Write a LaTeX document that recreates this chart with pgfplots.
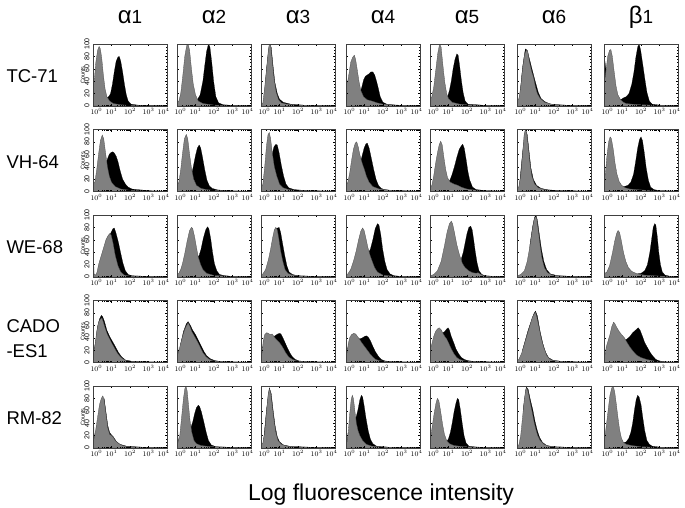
\documentclass[border=0pt]{standalone}
\usepackage{pgfplots}
\pgfplotsset{compat=1.18}
\usepackage{fontspec}
\setmainfont{Liberation Sans}
\definecolor{hg}{RGB}{128,128,128}
\pgfplotsset{
  panel/.style={
    width=74pt, height=62pt, scale only axis, anchor=north west,
    xmin=0, xmax=4, ymin=0, ymax=100,
    xtick={0,1,2,3,4},
    xticklabels={\makebox[0pt][l]{\kern-2.5pt$10^0$},$10^1$,$10^2$,$10^3$,\makebox[0pt][r]{$10^4$\kern-2.5pt}},
    minor xtick={0.301,0.477,0.602,0.699,0.778,0.845,0.903,0.954,
                 1.301,1.477,1.602,1.699,1.778,1.845,1.903,1.954,
                 2.301,2.477,2.602,2.699,2.778,2.845,2.903,2.954,
                 3.301,3.477,3.602,3.699,3.778,3.845,3.903,3.954},
    ytick={0,20,40,60,80,100}, minor y tick num=3,
    yticklabels={},
    tick label style={font=\fontsize{7.5}{7.5}\selectfont},
    xticklabel style={yshift=1pt},
    major tick length=2pt, minor tick length=1.1pt,
    tick align=inside,
    every tick/.style={black, line width=0.35pt},
    axis line style={black!75, line width=0.45pt},
    axis on top, no markers,
  },
  first/.style={
    yticklabels={0,20,40,60,80,100},
    yticklabel style={rotate=90, anchor=south, font=\fontsize{7}{7}\selectfont},
    ylabel={Counts},
    ylabel style={font=\fontsize{5.5}{5.5}\selectfont, yshift=-7pt},
  },
  bk/.style={fill=black, draw=black, line width=0.2pt},
  gr/.style={fill=hg, draw=black!70, line width=0.3pt},
}
\begin{document}
\begin{tikzpicture}
\path[use as bounding box] (0,0) rectangle (685pt,-507pt);

% column headers
\foreach \x/\g/\n in {130/α/1,214/α/2,298/α/3,383/α/4,467/α/5,554/α/6,641/β/1}
  \node[anchor=base] at (\x pt,-23pt) {{\fontsize{24}{24}\selectfont\g}{\fontsize{19}{19}\selectfont\n}};
% row labels
\node[font=\fontsize{18.5}{18.5}\selectfont, anchor=base west] at (3pt,-82pt) {TC-71};
\node[font=\fontsize{18.5}{18.5}\selectfont, anchor=base west] at (3pt,-168pt) {VH-64};
\node[font=\fontsize{18.5}{18.5}\selectfont, anchor=base west] at (3pt,-253pt) {WE-68};
\node[font=\fontsize{18.5}{18.5}\selectfont, anchor=base west] at (3pt,-332pt) {CADO};
\node[font=\fontsize{18.5}{18.5}\selectfont, anchor=base west] at (3pt,-357pt) {-ES1};
\node[font=\fontsize{18.5}{18.5}\selectfont, anchor=base west] at (3pt,-424pt) {RM-82};
\node[font=\fontsize{23}{23}\selectfont, anchor=base] at (381pt,-500pt) {Log fluorescence intensity};

% ===== row 1: TC-71 =====
\begin{axis}[panel,first,at={(93pt,-44pt)}]
\addplot[bk] coordinates {(0.5,8)(0.7,13)(0.85,15)(0.95,20)(1.05,35)(1.15,55)(1.25,72)(1.35,79)(1.42,80)(1.5,72)(1.6,55)(1.7,35)(1.8,18)(1.9,8)(2.05,3)(2.4,1.5)(3,1)(4,0.5)} \closedcycle;
\addplot[gr] coordinates {(0,40)(0.08,45)(0.15,70)(0.25,90)(0.33,96)(0.4,92)(0.48,75)(0.56,50)(0.65,28)(0.75,15)(0.9,8)(1.1,4)(1.5,2)(2,1)(3,0.5)(4,0.3)} \closedcycle;
\end{axis}
\begin{axis}[panel,at={(177pt,-44pt)}]
\addplot[bk] coordinates {(0.9,8)(1.1,10)(1.25,18)(1.4,40)(1.5,65)(1.6,88)(1.7,100)(1.78,95)(1.88,70)(1.98,40)(2.1,15)(2.25,5)(2.5,2)(3,1)(4,0.5)} \closedcycle;
\addplot[gr] coordinates {(0,5)(0.1,8)(0.2,20)(0.3,45)(0.42,80)(0.52,97)(0.6,100)(0.68,90)(0.78,60)(0.88,35)(1.0,18)(1.15,8)(1.4,4)(2,1.5)(3,0.5)(4,0.3)} \closedcycle;
\end{axis}
\begin{axis}[panel,at={(261pt,-44pt)}]
\addplot[bk] coordinates {(0.15,5)(0.3,60)(0.45,100)(0.55,95)(0.65,65)(0.75,38)(0.88,20)(1.0,11)(1.2,6)(1.6,3)(2.2,1.5)(3,1)(4,0.5)} \closedcycle;
\addplot[gr] coordinates {(0,0)(0.1,5)(0.2,30)(0.3,60)(0.38,85)(0.45,100)(0.52,98)(0.6,75)(0.7,45)(0.82,22)(0.95,10)(1.1,5)(1.4,3)(2,1.5)(3,1)(4,0.5)} \closedcycle;
\end{axis}
\begin{axis}[panel,at={(346pt,-44pt)}]
\addplot[bk] coordinates {(0.6,10)(0.75,20)(0.85,30)(0.95,42)(1.05,48)(1.15,50)(1.25,52)(1.35,55)(1.45,55)(1.55,50)(1.65,40)(1.75,28)(1.85,15)(2.0,6)(2.2,3)(2.6,1.5)(3.2,1)(4,0.5)} \closedcycle;
\addplot[gr] coordinates {(0,35)(0.08,38)(0.15,50)(0.25,70)(0.35,78)(0.45,82)(0.52,75)(0.6,60)(0.7,40)(0.8,25)(0.95,15)(1.15,10)(1.4,8)(1.7,5)(2,3)(3,1)(4,0.5)} \closedcycle;
\end{axis}
\begin{axis}[panel,at={(430pt,-44pt)}]
\addplot[bk] coordinates {(0.8,10)(0.95,15)(1.05,25)(1.15,40)(1.25,60)(1.35,75)(1.45,84)(1.52,82)(1.6,65)(1.7,40)(1.8,20)(1.9,8)(2.05,3)(2.5,2)(3,1)(4,0.5)} \closedcycle;
\addplot[gr] coordinates {(0,10)(0.1,15)(0.2,30)(0.3,55)(0.42,85)(0.52,100)(0.6,95)(0.7,65)(0.8,38)(0.9,20)(1.0,12)(1.2,6)(1.6,3)(2,2)(3,1)(4,0.5)} \closedcycle;
\end{axis}
\begin{axis}[panel,at={(517pt,-44pt)}]
\addplot[bk] coordinates {(0.15,15)(0.3,62)(0.45,92)(0.55,90)(0.68,75)(0.85,55)(1.0,38)(1.15,22)(1.3,12)(1.5,7)(1.8,3)(2.5,1.5)(4,0.5)} \closedcycle;
\addplot[gr] coordinates {(0,8)(0.1,12)(0.2,30)(0.3,60)(0.4,82)(0.5,90)(0.58,88)(0.68,70)(0.8,55)(0.9,45)(1.0,30)(1.1,20)(1.25,12)(1.5,6)(2,2)(3,1)(4,0.5)} \closedcycle;
\end{axis}
\begin{axis}[panel,at={(604pt,-44pt)}]
\addplot[bk] coordinates {(0,70)(0.05,72)(0.1,60)(0.6,10)(0.9,10)(1.05,13)(1.2,15)(1.35,20)(1.5,35)(1.62,55)(1.72,78)(1.82,95)(1.9,100)(1.98,90)(2.08,70)(2.2,45)(2.32,22)(2.45,8)(2.6,3)(3,1.5)(4,0.5)} \closedcycle;
\addplot[gr] coordinates {(0,43)(0.06,45)(0.12,60)(0.2,80)(0.3,90)(0.37,91)(0.45,80)(0.55,55)(0.65,32)(0.75,18)(0.9,10)(1.05,6)(1.2,4)(1.5,3)(2,2)(3,1)(4,0.5)} \closedcycle;
\end{axis}

% ===== row 2: VH-64 =====
\begin{axis}[panel,first,at={(93pt,-129.5pt)}]
\addplot[bk] coordinates {(0.4,10)(0.6,30)(0.75,50)(0.88,60)(0.98,63)(1.07,64)(1.15,62)(1.25,57)(1.35,48)(1.48,32)(1.6,20)(1.75,12)(1.9,7)(2.1,4)(2.4,3)(2.8,2)(3.2,1)(4,0.5)} \closedcycle;
\addplot[gr] coordinates {(0,12)(0.1,15)(0.2,35)(0.3,60)(0.4,82)(0.5,91)(0.58,85)(0.68,62)(0.78,40)(0.88,25)(1.0,15)(1.2,8)(1.5,4)(2,2)(3,1)(4,0.5)} \closedcycle;
\end{axis}
\begin{axis}[panel,at={(177pt,-129.5pt)}]
\addplot[bk] coordinates {(0.6,12)(0.75,22)(0.88,40)(1.0,58)(1.1,70)(1.2,75)(1.28,70)(1.38,55)(1.5,35)(1.62,18)(1.75,9)(1.9,5)(2.2,2.5)(3,1)(4,0.5)} \closedcycle;
\addplot[gr] coordinates {(0,10)(0.1,15)(0.2,35)(0.3,62)(0.4,85)(0.5,92)(0.58,85)(0.68,60)(0.78,38)(0.9,20)(1.05,10)(1.3,5)(1.6,3)(2,2)(3,1)(4,0.5)} \closedcycle;
\end{axis}
\begin{axis}[panel,at={(261pt,-129.5pt)}]
\addplot[bk] coordinates {(0.5,40)(0.6,60)(0.7,72)(0.8,76)(0.88,75)(0.98,62)(1.1,42)(1.22,25)(1.35,12)(1.5,6)(1.8,3)(2.5,1.5)(4,0.5)} \closedcycle;
\addplot[gr] coordinates {(0,5)(0.1,12)(0.2,40)(0.3,75)(0.38,92)(0.45,95)(0.52,85)(0.62,60)(0.72,40)(0.85,25)(1.0,12)(1.2,6)(1.5,3)(2,1.5)(3,1)(4,0.5)} \closedcycle;
\end{axis}
\begin{axis}[panel,at={(346pt,-129.5pt)}]
\addplot[bk] coordinates {(0.7,40)(0.85,55)(0.98,70)(1.08,77)(1.15,78)(1.25,70)(1.38,52)(1.5,35)(1.62,20)(1.75,10)(1.9,5)(2.1,3)(2.5,1.5)(4,0.5)} \closedcycle;
\addplot[gr] coordinates {(0,10)(0.1,15)(0.2,30)(0.3,50)(0.4,68)(0.5,78)(0.58,80)(0.66,72)(0.76,58)(0.88,45)(1.0,35)(1.1,25)(1.25,15)(1.45,8)(1.8,4)(2.4,2)(4,0.5)} \closedcycle;
\end{axis}
\begin{axis}[panel,at={(430pt,-129.5pt)}]
\addplot[bk] coordinates {(1.0,15)(1.1,20)(1.2,28)(1.32,40)(1.45,55)(1.58,68)(1.7,74)(1.77,76)(1.85,70)(1.95,52)(2.05,32)(2.15,18)(2.3,7)(2.5,3)(3,1.5)(4,0.5)} \closedcycle;
\addplot[gr] coordinates {(0,5)(0.1,10)(0.2,25)(0.3,45)(0.4,62)(0.5,76)(0.58,81)(0.66,75)(0.75,55)(0.85,35)(0.95,22)(1.1,15)(1.3,12)(1.5,10)(1.7,7)(2,4)(2.5,2)(3,1)(4,0.5)} \closedcycle;
\end{axis}
\begin{axis}[panel,at={(517pt,-129.5pt)}]
\addplot[bk] coordinates {(0.15,15)(0.3,62)(0.45,100)(0.55,92)(0.65,65)(0.75,38)(0.88,20)(1.05,10)(1.3,5)(1.7,2.5)(2.5,1.5)(4,0.5)} \closedcycle;
\addplot[gr] coordinates {(0,3)(0.1,8)(0.2,25)(0.3,60)(0.38,90)(0.45,100)(0.52,95)(0.6,75)(0.7,45)(0.8,25)(0.95,12)(1.15,6)(1.5,3)(2,1.5)(3,1)(4,0.5)} \closedcycle;
\end{axis}
\begin{axis}[panel,at={(604pt,-129.5pt)}]
\addplot[bk] coordinates {(0.9,8)(1.1,8)(1.3,10)(1.45,15)(1.6,28)(1.72,50)(1.82,70)(1.92,84)(2.0,88)(2.08,82)(2.18,62)(2.28,38)(2.4,18)(2.52,7)(2.7,3)(3,1.5)(4,0.5)} \closedcycle;
\addplot[gr] coordinates {(0,20)(0.08,30)(0.15,55)(0.25,80)(0.33,88)(0.4,85)(0.5,68)(0.6,45)(0.7,28)(0.82,16)(0.95,10)(1.15,6)(1.4,4)(1.8,3)(2.5,1.5)(4,0.5)} \closedcycle;
\end{axis}

% ===== row 3: WE-68 =====
\begin{axis}[panel,first,at={(93pt,-215pt)}]
\addplot[bk] coordinates {(0.7,55)(0.85,65)(0.98,72)(1.08,78)(1.15,79)(1.25,70)(1.38,55)(1.5,38)(1.62,22)(1.75,10)(1.9,4)(2.1,2)(3,1)(4,0.5)} \closedcycle;
\addplot[gr] coordinates {(0,30)(0.03,30)(0.06,5)(0.15,3)(0.22,8)(0.3,20)(0.4,30)(0.5,40)(0.6,50)(0.7,60)(0.8,66)(0.9,70)(0.98,68)(1.08,55)(1.2,35)(1.35,18)(1.5,8)(1.7,3)(2,1.5)(3,1)(4,0.5)} \closedcycle;
\end{axis}
\begin{axis}[panel,at={(177pt,-215pt)}]
\addplot[bk] coordinates {(1.0,30)(1.1,32)(1.2,35)(1.3,45)(1.42,62)(1.55,76)(1.65,81)(1.72,78)(1.82,62)(1.92,40)(2.02,22)(2.15,10)(2.3,4)(2.6,2)(3,1)(4,0.5)} \closedcycle;
\addplot[gr] coordinates {(0,5)(0.1,6)(0.2,12)(0.3,22)(0.42,38)(0.55,58)(0.68,75)(0.78,80)(0.85,78)(0.95,65)(1.05,48)(1.15,32)(1.28,20)(1.4,12)(1.6,6)(2,2.5)(3,1)(4,0.5)} \closedcycle;
\end{axis}
\begin{axis}[panel,at={(261pt,-215pt)}]
\addplot[bk] coordinates {(0.8,78)(0.9,79)(0.98,80)(1.06,72)(1.16,55)(1.28,35)(1.4,18)(1.52,8)(1.7,4)(2,2)(3,1)(4,0.5)} \closedcycle;
\addplot[gr] coordinates {(0,3)(0.1,5)(0.25,12)(0.4,28)(0.52,45)(0.62,62)(0.72,76)(0.8,80)(0.88,76)(0.96,62)(1.06,42)(1.18,25)(1.3,12)(1.45,6)(1.7,3)(2.2,1.5)(3,1)(4,0.5)} \closedcycle;
\end{axis}
\begin{axis}[panel,at={(346pt,-215pt)}]
\addplot[bk] coordinates {(1.1,35)(1.2,38)(1.32,45)(1.45,60)(1.58,78)(1.7,86)(1.78,84)(1.88,68)(1.98,45)(2.1,25)(2.22,12)(2.38,5)(2.6,2)(3,1)(4,0.5)} \closedcycle;
\addplot[gr] coordinates {(0,3)(0.1,5)(0.25,12)(0.4,25)(0.55,42)(0.68,60)(0.8,74)(0.9,79)(0.98,75)(1.08,62)(1.18,48)(1.3,35)(1.42,25)(1.55,15)(1.7,8)(2,3)(2.5,1.5)(4,0.5)} \closedcycle;
\end{axis}
\begin{axis}[panel,at={(430pt,-215pt)}]
\addplot[bk] coordinates {(1.7,30)(1.8,40)(1.9,55)(2.0,70)(2.1,80)(2.2,82)(2.28,76)(2.36,60)(2.45,40)(2.55,22)(2.65,10)(2.8,4)(3,2)(3.5,1)(4,0.5)} \closedcycle;
\addplot[gr] coordinates {(0,2)(0.2,4)(0.4,10)(0.6,25)(0.78,50)(0.92,72)(1.05,86)(1.15,90)(1.22,86)(1.32,72)(1.45,52)(1.6,35)(1.75,22)(1.9,15)(2.1,10)(2.3,7)(2.5,6)(2.6,7)(2.7,5)(2.9,2)(3.2,1)(4,0.5)} \closedcycle;
\end{axis}
\begin{axis}[panel,at={(517pt,-215pt)}]
\addplot[bk] coordinates {(0.7,52)(0.85,82)(0.95,96)(1.02,100)(1.1,92)(1.2,70)(1.32,45)(1.45,25)(1.6,12)(1.8,5)(2.2,2)(3,1)(4,0.5)} \closedcycle;
\addplot[gr] coordinates {(0,2)(0.2,4)(0.4,10)(0.55,25)(0.7,50)(0.82,75)(0.92,92)(1.0,98)(1.06,95)(1.15,75)(1.25,50)(1.35,30)(1.48,15)(1.65,7)(1.9,3)(2.5,1.5)(4,0.5)} \closedcycle;
\end{axis}
\begin{axis}[panel,at={(604pt,-215pt)}]
\addplot[bk] coordinates {(1.8,5)(2.0,6)(2.2,10)(2.35,20)(2.48,40)(2.58,62)(2.66,80)(2.74,86)(2.8,84)(2.88,65)(2.96,40)(3.05,20)(3.15,8)(3.3,3)(3.6,1)(4,0.5)} \closedcycle;
\addplot[gr] coordinates {(0,5)(0.15,8)(0.3,18)(0.45,38)(0.58,58)(0.68,70)(0.76,75)(0.84,72)(0.94,58)(1.05,40)(1.18,25)(1.32,15)(1.5,9)(1.8,5)(2.2,3)(3,1.5)(4,0.5)} \closedcycle;
\end{axis}

% ===== row 4: CADO-ES1 =====
\begin{axis}[panel,first,at={(93pt,-300.5pt)}]
\addplot[bk] coordinates {(0.15,35)(0.25,58)(0.35,70)(0.45,76)(0.52,74)(0.62,66)(0.75,52)(0.9,42)(1.05,34)(1.2,26)(1.38,16)(1.55,9)(1.75,4)(2.1,2)(3,1)(4,0.5)} \closedcycle;
\addplot[gr] coordinates {(0,40)(0.03,40)(0.06,20)(0.12,30)(0.2,50)(0.3,65)(0.4,70)(0.48,72)(0.56,65)(0.66,55)(0.78,45)(0.9,38)(1.0,32)(1.15,24)(1.3,16)(1.45,10)(1.6,6)(1.8,3)(2.1,1.5)(3,1)(4,0.5)} \closedcycle;
\end{axis}
\begin{axis}[panel,at={(177pt,-300.5pt)}]
\addplot[bk] coordinates {(0.2,30)(0.35,50)(0.5,62)(0.6,66)(0.72,60)(0.85,52)(1.0,45)(1.15,36)(1.3,27)(1.45,18)(1.6,11)(1.8,6)(2.05,3)(2.4,1.5)(3,1)(4,0.5)} \closedcycle;
\addplot[gr] coordinates {(0,35)(0.03,35)(0.06,15)(0.15,25)(0.28,40)(0.4,52)(0.52,60)(0.6,64)(0.7,58)(0.8,50)(0.95,42)(1.1,34)(1.25,25)(1.4,16)(1.55,10)(1.7,6)(1.9,3)(2.1,2)(2.3,1.5)(3,1)(4,0.5)} \closedcycle;
\end{axis}
\begin{axis}[panel,at={(261pt,-300.5pt)}]
\addplot[bk] coordinates {(0.6,40)(0.7,42)(0.8,44)(0.9,46)(1.0,47)(1.08,46)(1.18,40)(1.3,32)(1.42,24)(1.55,16)(1.7,9)(1.85,5)(2.05,2.5)(2.5,1.5)(3,1)(4,0.5)} \closedcycle;
\addplot[gr] coordinates {(0,40)(0.03,40)(0.06,15)(0.12,35)(0.2,45)(0.3,48)(0.4,47)(0.5,45)(0.6,46)(0.7,42)(0.8,38)(0.9,35)(1.0,32)(1.1,28)(1.22,22)(1.35,15)(1.5,9)(1.7,5)(2,2)(3,1)(4,0.5)} \closedcycle;
\end{axis}
\begin{axis}[panel,at={(346pt,-300.5pt)}]
\addplot[bk] coordinates {(0.6,40)(0.75,38)(0.9,40)(1.0,42)(1.1,43)(1.2,41)(1.32,35)(1.45,26)(1.6,17)(1.75,10)(1.9,5)(2.1,2.5)(2.5,1.5)(3,1)(4,0.5)} \closedcycle;
\addplot[gr] coordinates {(0,35)(0.03,35)(0.06,15)(0.12,30)(0.2,40)(0.3,45)(0.42,47)(0.52,46)(0.62,42)(0.72,38)(0.85,32)(1.0,26)(1.15,20)(1.3,14)(1.45,9)(1.6,5)(1.8,3)(2.2,1.5)(3,1)(4,0.5)} \closedcycle;
\end{axis}
\begin{axis}[panel,at={(430pt,-300.5pt)}]
\addplot[bk] coordinates {(0.7,48)(0.8,50)(0.9,54)(0.98,56)(1.05,52)(1.15,42)(1.28,32)(1.4,22)(1.55,14)(1.7,8)(1.85,5)(2.05,3)(2.3,2)(3,1.2)(4,0.5)} \closedcycle;
\addplot[gr] coordinates {(0,25)(0.05,25)(0.1,30)(0.2,42)(0.3,50)(0.4,54)(0.5,56)(0.6,53)(0.7,47)(0.8,42)(0.9,38)(1.0,32)(1.15,22)(1.3,14)(1.45,8)(1.6,5)(1.8,3)(2.2,1.5)(3,1)(4,0.5)} \closedcycle;
\end{axis}
\begin{axis}[panel,at={(517pt,-300.5pt)}]
\addplot[bk] coordinates {(0.3,20)(0.6,52)(0.9,78)(1.0,83)(1.1,75)(1.25,50)(1.4,30)(1.55,16)(1.7,8)(1.95,3.5)(2.5,1.5)(4,0.5)} \closedcycle;
\addplot[gr] coordinates {(0,5)(0.1,5)(0.25,15)(0.4,30)(0.55,45)(0.7,60)(0.82,72)(0.92,78)(1.0,81)(1.08,72)(1.18,58)(1.3,40)(1.45,24)(1.6,12)(1.75,6)(1.95,3)(2.5,1.5)(4,0.5)} \closedcycle;
\end{axis}
\begin{axis}[panel,at={(604pt,-300.5pt)}]
\addplot[bk] coordinates {(1.0,38)(1.12,36)(1.25,38)(1.4,42)(1.55,48)(1.7,52)(1.85,56)(1.95,52)(2.08,42)(2.2,32)(2.35,24)(2.5,16)(2.65,10)(2.8,5)(3.0,2.5)(3.4,1)(4,0.5)} \closedcycle;
\addplot[gr] coordinates {(0,12)(0.05,12)(0.12,25)(0.22,35)(0.32,45)(0.42,58)(0.52,65)(0.6,62)(0.7,56)(0.82,50)(0.95,45)(1.1,40)(1.25,32)(1.4,25)(1.58,18)(1.76,12)(2.0,8)(2.3,5)(2.7,2.5)(3.2,1)(4,0.5)} \closedcycle;
\end{axis}

% ===== row 5: RM-82 =====
\begin{axis}[panel,first,at={(93pt,-386pt)}]
\addplot[bk] coordinates {(0.6,80)(0.7,58)(0.8,36)(0.9,25)(1.0,21)(1.1,18)(1.25,11)(1.45,6)(1.8,3)(2.5,1.5)(4,0.5)} \closedcycle;
\addplot[gr] coordinates {(0,55)(0.03,55)(0.06,15)(0.15,30)(0.25,50)(0.35,70)(0.45,80)(0.53,84)(0.6,78)(0.7,55)(0.8,32)(0.9,22)(1.0,20)(1.1,17)(1.2,12)(1.35,8)(1.5,5)(1.7,3)(2,2)(3,1)(4,0.5)} \closedcycle;
\end{axis}
\begin{axis}[panel,at={(177pt,-386pt)}]
\addplot[bk] coordinates {(0.6,20)(0.72,30)(0.85,42)(0.95,55)(1.05,65)(1.15,69)(1.22,67)(1.32,58)(1.45,42)(1.58,25)(1.7,12)(1.85,5)(2.1,2)(3,1)(4,0.5)} \closedcycle;
\addplot[gr] coordinates {(0,45)(0.03,45)(0.06,10)(0.15,20)(0.25,50)(0.35,80)(0.42,95)(0.48,100)(0.55,92)(0.62,70)(0.7,45)(0.8,25)(0.92,12)(1.05,7)(1.3,4)(1.7,2.5)(2.5,1.5)(4,0.5)} \closedcycle;
\end{axis}
\begin{axis}[panel,at={(261pt,-386pt)}]
\addplot[bk] coordinates {(0.15,15)(0.3,62)(0.45,97)(0.55,88)(0.65,62)(0.76,36)(0.88,18)(1.0,10)(1.2,5)(1.6,2.5)(2.5,1.5)(4,0.5)} \closedcycle;
\addplot[gr] coordinates {(0,5)(0.1,8)(0.2,25)(0.3,60)(0.38,85)(0.45,95)(0.52,90)(0.6,70)(0.7,45)(0.8,25)(0.92,12)(1.1,6)(1.4,3)(2,1.5)(3,1)(4,0.5)} \closedcycle;
\end{axis}
\begin{axis}[panel,at={(346pt,-386pt)}]
\addplot[bk] coordinates {(0.45,45)(0.55,50)(0.65,62)(0.75,78)(0.83,85)(0.9,82)(0.98,68)(1.08,48)(1.2,28)(1.32,14)(1.45,7)(1.65,3)(2.2,1.5)(3,1)(4,0.5)} \closedcycle;
\addplot[gr] coordinates {(0,40)(0.03,40)(0.06,10)(0.12,25)(0.2,55)(0.28,78)(0.34,85)(0.4,80)(0.48,60)(0.56,40)(0.65,28)(0.75,20)(0.9,12)(1.1,6)(1.4,3)(2,1.5)(3,1)(4,0.5)} \closedcycle;
\end{axis}
\begin{axis}[panel,at={(430pt,-386pt)}]
\addplot[bk] coordinates {(0.9,10)(1.0,15)(1.1,25)(1.2,40)(1.3,58)(1.4,72)(1.48,80)(1.55,78)(1.64,62)(1.74,40)(1.84,20)(1.95,8)(2.1,3)(2.5,1.5)(3,1)(4,0.5)} \closedcycle;
\addplot[gr] coordinates {(0,20)(0.05,20)(0.12,35)(0.22,55)(0.32,72)(0.4,80)(0.48,76)(0.58,58)(0.68,38)(0.78,22)(0.9,12)(1.05,7)(1.3,4)(1.7,2.5)(2.5,1.5)(4,0.5)} \closedcycle;
\end{axis}
\begin{axis}[panel,at={(517pt,-386pt)}]
\addplot[bk] coordinates {(0.35,65)(0.5,98)(0.6,95)(0.72,78)(0.85,62)(0.98,42)(1.1,28)(1.22,17)(1.38,9)(1.6,4)(2,2)(3,1)(4,0.5)} \closedcycle;
\addplot[gr] coordinates {(0,3)(0.1,5)(0.2,20)(0.3,50)(0.4,80)(0.48,95)(0.54,97)(0.62,88)(0.72,72)(0.82,58)(0.92,42)(1.02,30)(1.12,20)(1.25,12)(1.45,6)(1.7,3)(2.2,1.5)(4,0.5)} \closedcycle;
\end{axis}
\begin{axis}[panel,at={(604pt,-386pt)}]
\addplot[bk] coordinates {(0.9,10)(1.05,8)(1.2,10)(1.33,15)(1.45,25)(1.55,40)(1.65,62)(1.74,78)(1.82,85)(1.9,82)(2.0,70)(2.1,48)(2.2,28)(2.32,12)(2.45,6)(2.6,3)(3,1.5)(4,0.5)} \closedcycle;
\addplot[gr] coordinates {(0,15)(0.05,18)(0.12,35)(0.22,60)(0.32,85)(0.42,97)(0.5,100)(0.58,90)(0.66,72)(0.75,50)(0.84,30)(0.94,16)(1.05,9)(1.2,6)(1.5,4)(2,2)(3,1)(4,0.5)} \closedcycle;
\end{axis}
\end{tikzpicture}
\end{document}
